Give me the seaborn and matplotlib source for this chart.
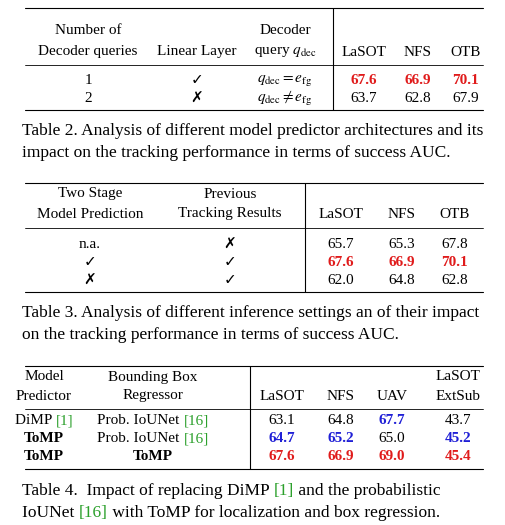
import matplotlib
matplotlib.use("Agg")
import matplotlib.pyplot as plt
import seaborn as sns

sns.set_theme(style="white")
plt.rcParams['font.family'] = ['Liberation Serif', 'DejaVu Sans']
plt.rcParams['mathtext.fontset'] = 'stix'

RED = '#e01b1b'
BLUE = '#1f1fd6'
GREEN = '#2ca02c'

# ---- data ----
t2_queries = ['1', '2']
t2_linear = ['\u2713', '\u2717']
t2_query = [r'$q_{\mathrm{dec}} = e_{\mathrm{fg}}$', r'$q_{\mathrm{dec}} \neq e_{\mathrm{fg}}$']
t2_lasot = [67.6, 63.7]
t2_nfs = [66.9, 62.8]
t2_otb = [70.1, 67.9]

t3_two_stage = ['n.a.', '\u2713', '\u2717']
t3_previous = ['\u2717', '\u2713', '\u2713']
t3_lasot = [65.7, 67.6, 62.0]
t3_nfs = [65.3, 66.9, 64.8]
t3_otb = [67.8, 70.1, 62.8]

t4_predictor = ['DiMP', 'ToMP', 'ToMP']
t4_regressor = ['Prob. IoUNet', 'Prob. IoUNet', 'ToMP']
t4_lasot = [63.1, 64.7, 67.6]
t4_nfs = [64.8, 65.2, 66.9]
t4_uav = [67.7, 65.0, 69.0]
t4_extsub = [43.7, 45.2, 45.4]
t4_colors = {  # rank colours per cell (row, col)
    (0, 2): BLUE, (1, 0): BLUE, (1, 1): BLUE, (1, 3): BLUE,
    (2, 0): RED, (2, 1): RED, (2, 2): RED, (2, 3): RED,
}

fig = plt.figure(figsize=(5.06, 5.25), dpi=100)
ax = fig.add_axes([0, 0, 1, 1])
ax.set_xlim(0, 506)
ax.set_ylim(525, 0)
ax.axis('off')

FS = 11
CFS = 12.5


def hline(y, lw=0.8):
    ax.plot([25, 483], [y, y], color='black', lw=lw)


def vline(x, y0, y1):
    ax.plot([x, x], [y0, y1], color='black', lw=0.8)


def txt(x, y, s, color='black', weight='normal', ha='center', size=FS):
    return ax.text(x, y, s, ha=ha, va='center', fontsize=size, color=color, fontweight=weight)


def segs(x, y, parts, size=CFS, ha='left'):
    # draw pieces of text one after another, measuring each
    r = fig.canvas.get_renderer()
    inv = ax.transData.inverted()
    widths = []
    for s, c, w in parts:
        t = ax.text(0, 0, s, fontsize=size, fontweight=w)
        bb = t.get_window_extent(renderer=r)
        widths.append(inv.transform((bb.x1, 0))[0] - inv.transform((bb.x0, 0))[0])
        t.remove()
    if ha == 'center':
        x = x - sum(widths) / 2
    for (s, c, w), wd in zip(parts, widths):
        ax.text(x, y, s, ha='left', va='center', fontsize=size, color=c, fontweight=w)
        x += wd


# ---- Table 2 ----
hline(8)
txt(88, 31, 'Number of'); txt(88, 52, 'Decoder queries')
txt(197, 52, 'Linear Layer')
txt(285, 31, 'Decoder'); txt(285, 52, r'query $q_{\mathrm{dec}}$')
for x, s in zip([364, 418, 466], ['LaSOT', 'NFS', 'OTB']):
    txt(x, 52, s)
hline(65, 0.6)
vline(333, 8, 110)
for i, y in enumerate([81, 99]):
    best = i == 0
    c = RED if best else 'black'
    w = 'bold' if best else 'normal'
    txt(88, y, t2_queries[i]); txt(197, y, t2_linear[i]); txt(285, y, t2_query[i])
    txt(364, y, f'{t2_lasot[i]:.1f}', c, w)
    txt(418, y, f'{t2_nfs[i]:.1f}', c, w)
    txt(466, y, f'{t2_otb[i]:.1f}', c, w)
hline(110)
txt(22, 131, 'Table 2. Analysis of different model predictor architectures and its', ha='left', size=CFS)
txt(22, 153, 'impact on the tracking performance in terms of success AUC.', ha='left', size=CFS)

# ---- Table 3 ----
hline(183)
txt(90, 194, 'Two Stage'); txt(90, 214, 'Model Prediction')
txt(230, 194, 'Previous'); txt(230, 214, 'Tracking Results')
for x, s in zip([341, 402, 455], ['LaSOT', 'NFS', 'OTB']):
    txt(x, 214, s)
hline(228, 0.6)
vline(305, 183, 292)
for i, y in enumerate([245, 263, 281]):
    best = i == 1
    c = RED if best else 'black'
    w = 'bold' if best else 'normal'
    txt(90, y, t3_two_stage[i]); txt(230, y, t3_previous[i])
    txt(341, y, f'{t3_lasot[i]:.1f}', c, w)
    txt(402, y, f'{t3_nfs[i]:.1f}', c, w)
    txt(455, y, f'{t3_otb[i]:.1f}', c, w)
hline(292)
txt(22, 313, 'Table 3. Analysis of different inference settings an of their impact', ha='left', size=CFS)
txt(22, 335, 'on the tracking performance in terms of success AUC.', ha='left', size=CFS)

# ---- Table 4 ----
hline(366)
txt(44, 377, 'Model'); txt(44, 396, 'Predictor')
txt(153, 377, 'Bounding Box'); txt(153, 396, 'Regressor')
for x, s in zip([282, 341, 392], ['LaSOT', 'NFS', 'UAV']):
    txt(x, 396, s)
txt(458, 377, 'LaSOT'); txt(458, 396, 'ExtSub')
hline(409, 0.6)
vline(250, 366, 469)
cols4 = [t4_lasot, t4_nfs, t4_uav, t4_extsub]
for i, y in enumerate([421, 439, 457]):
    if i == 0:
        segs(44, y, [(t4_predictor[i] + ' ', 'black', 'normal'), ('[1]', GREEN, 'normal')], size=FS, ha='center')
    else:
        txt(44, y, t4_predictor[i], weight='bold')
    if i < 2:
        segs(153, y, [(t4_regressor[i] + ' ', 'black', 'normal'), ('[16]', GREEN, 'normal')], size=FS, ha='center')
    else:
        txt(153, y, t4_regressor[i], weight='bold')
    for j, (x, vals) in enumerate(zip([282, 341, 392, 458], cols4)):
        c = t4_colors.get((i, j), 'black')
        txt(x, y, f'{vals[i]:.1f}', c, 'bold' if c != 'black' else 'normal')
hline(469)
segs(22, 491, [('Table 4.  Impact of replacing DiMP ', 'black', 'normal'), ('[1]', GREEN, 'normal'),
               (' and the probabilistic', 'black', 'normal')])
segs(22, 513, [('IoUNet ', 'black', 'normal'), ('[16]', GREEN, 'normal'),
               (' with ToMP for localization and box regression.', 'black', 'normal')])

fig.savefig('out.png', dpi=100, facecolor='white')
